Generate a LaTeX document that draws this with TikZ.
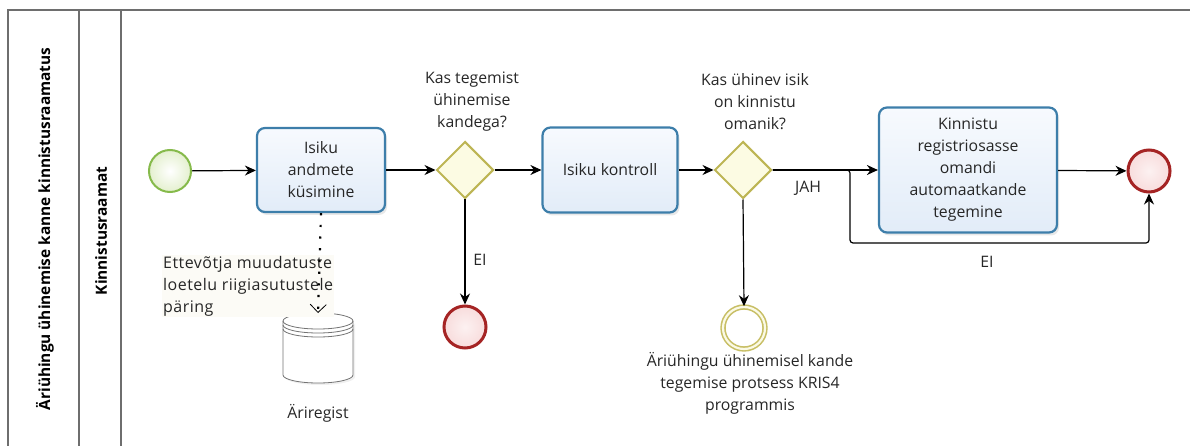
\documentclass[tikz,border=0pt]{standalone}
\usepackage{fontspec}
\setmainfont{Open Sans}
\usetikzlibrary{shapes.geometric,arrows.meta,shadows}
\definecolor{taskborder}{HTML}{3D7EAA}
\definecolor{tasktop}{HTML}{F7FAFE}
\definecolor{taskbot}{HTML}{E2ECF8}
\definecolor{gwborder}{HTML}{BDB554}
\definecolor{gwfill}{HTML}{FCFBE3}
\definecolor{startborder}{HTML}{86BA4B}
\definecolor{startfill}{HTML}{F2F8D8}
\definecolor{endborder}{HTML}{A52424}
\definecolor{endfill}{HTML}{F8DCDC}
\definecolor{interborder}{HTML}{C8BF66}
\definecolor{interfill}{HTML}{FBFAE6}
\definecolor{poolline}{HTML}{6E6E6E}
\definecolor{notefill}{HTML}{FCFBF6}
\tikzset{
  txt/.style={font=\fontsize{15.8}{22}\selectfont, text=black!85},
  task/.style={txt, rectangle, rounded corners=8pt, draw=taskborder, line width=2.2pt,
     top color=tasktop, bottom color=taskbot, align=center, inner sep=2pt,
     drop shadow={shadow xshift=2pt, shadow yshift=-3pt, opacity=0.15, fill=black!60}},
  gateway/.style={diamond, aspect=1, minimum width=57pt, minimum height=57pt, inner sep=0pt,
     draw=gwborder, line width=2pt, fill=gwfill},
  startev/.style={circle, minimum size=42pt, inner sep=0pt, draw=startborder, line width=2pt,
     inner color=white, outer color=startfill!70!startborder!60},
  endev/.style={circle, minimum size=42pt, inner sep=0pt, draw=endborder, line width=3pt,
     inner color=endfill!40, outer color=endfill},
  interev/.style={circle, minimum size=42pt, inner sep=0pt, draw=interborder, line width=1.6pt,
     double=interfill, double distance=2.2pt, fill=white},
  flow/.style={draw=black, line width=1.2pt, -{Stealth[length=11pt,width=10pt]}},
  assoc/.style={draw=black, line width=2.2pt, dash pattern=on 2.2pt off 9.5pt,
     -{Straight Barb[length=8pt,width=16pt,line width=0.8pt]}},
  flowlabel/.style={txt, inner sep=1pt},
  lanelabel/.style={font=\bfseries\fontsize{15.4}{18}\selectfont, rotate=90},
}
\begin{document}
\begin{tikzpicture}[x=1pt,y=-1pt]
\useasboundingbox (0,0) rectangle (1190,446);
% pool and lane frame
\draw[poolline, line width=1.3pt] (8,446) -- (8,10) -- (1190,10);
\draw[poolline, line width=1.1pt] (79,10) -- (79,446);
\draw[poolline, line width=1.1pt] (121,10) -- (121,446);
\node[lanelabel] (poolname) at (45,229) {Äriühingu ühinemise kanne kinnistusraamatus};
\node[lanelabel] (lanename) at (101,231) {Kinnistusraamat};

% nodes
\node[startev] (start) at (170,171) {};
\node[task, minimum width=128pt, minimum height=84pt] (t1) at (321,170) {Isiku\\andmete\\küsimine};
\node[gateway] (g1) at (465,170) {};
\node[txt, align=center] (g1lab) at (472,102) {Kas tegemist\\ühinemise\\kandega?};
\node[task, minimum width=135pt, minimum height=85pt] (t2) at (610,170) {Isiku kontroll};
\node[gateway] (g2) at (743,170) {};
\node[txt, align=center] (g2lab) at (755,102) {Kas ühinev isik\\on kinnistu\\omanik?};
\node[task, minimum width=178pt, minimum height=125pt] (t3) at (968,170) {Kinnistu\\registriosasse\\omandi\\automaatkande\\tegemine};
\node[endev] (end1) at (1149,171) {};
\node[endev] (end2) at (465,327) {};
\node[interev] (inter) at (744,328) {};
\node[txt, align=center] (interlab) at (750,383) {Äriühingu ühinemisel kande\\tegemise protsess KRIS4\\programmis};

% data store
\coordinate (ds) at (318,313);
\begin{scope}[draw=black!55, line width=0.8pt]
  \path[fill=white, drop shadow={shadow xshift=2pt, shadow yshift=-2pt, opacity=0.12}]
     (283,321) -- (283,375) arc (180:0:35 and 8) -- (353,321) arc (0:180:35 and 8) -- cycle;
  \draw (283,321) -- (283,375) arc (180:0:35 and 8) -- (353,321);
  \draw (318,321) ellipse (35 and 8);
  \draw (283,325) arc (180:0:35 and 8);
  \draw (283,329) arc (180:0:35 and 8);
\end{scope}
\node[txt] (dslab) at (318,413) {Äriregist};

% annotation text of association
\node[txt, font=\fontsize{16}{22}\selectfont\addfontfeature{LetterSpace=3}, align=left,
      anchor=north west, fill=notefill, inner sep=1pt] (note) at (162,255)
  {Ettevõtja muudatuste\\loetelu riigiasutustele\\päring};

% connectors
\draw[flow] (start) -- (t1);
\draw[flow] (t1) -- (g1);
\draw[flow] (g1) -- (t2);
\draw[flow] (t2) -- (g2);
\draw[flow] (g2.east) -- (t3.west);
\draw[flow] (t3) -- (end1);
\draw[flow] (g1.south) -- (end2.north);
\draw[flow] (g2.south) -- (inter.north);
\coordinate (bp1) at (850,170);
\coordinate (bp2) at (850,243);
\coordinate (bp3) at (1149,243);
\draw[flow, rounded corners=3pt] (g2.east) -- (bp1) -- (bp2) -- (bp3) -- (end1.south);
\draw[assoc] (t1.south) -- (ds);

% flow labels
\node[flowlabel] (jah) at (808,188) {JAH};
\node[flowlabel] (ei1) at (480,260) {EI};
\node[flowlabel] (ei2) at (987,262) {EI};
\end{tikzpicture}
\end{document}
